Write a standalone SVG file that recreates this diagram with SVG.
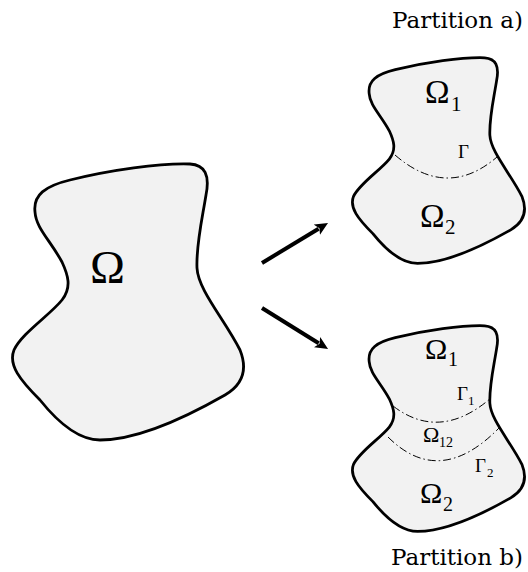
<svg xmlns="http://www.w3.org/2000/svg" xmlns:xlink="http://www.w3.org/1999/xlink" width="528" height="572" viewBox="0 0 528 572">
<style>
.blob{fill:#f2f2f2;stroke:#000;stroke-linejoin:round}
.iface{fill:none;stroke:#000;stroke-width:1;stroke-dasharray:8 3 1.5 3}
.arrow{stroke:#000;stroke-width:4;fill:none}
.m{font-family:"Liberation Serif","DejaVu Serif",serif;fill:#000}
.cap{font-family:"DejaVu Serif","Liberation Serif",serif;font-size:23px;fill:#000}
</style>
<defs>
<path id="blob" d="M35,212 C33,195 45,186 70,180 C110,170 160,163 190,164 C205,165 210,175 206,195 C202,220 196,245 197,268 C198,290 225,320 240,350 C248,370 242,385 225,395 C190,415 140,440 100,440 C80,440 60,425 40,400 C20,380 8,365 14,350 C22,333 50,315 62,300 C72,287 68,275 62,262 C50,240 36,228 35,212 Z"/>
<marker id="head" markerUnits="userSpaceOnUse" viewBox="0 0 13 12" markerWidth="13" markerHeight="12" refX="2" refY="6" orient="auto">
<path d="M0,0 L13,6 L0,12 L3,6 z" fill="#000"/>
</marker>
</defs>
<g id="domain">
<use xlink:href="#blob" href="#blob" class="blob" style="stroke-width:2.8"/>
<text class="m" x="90" y="283" font-size="47">Ω</text>
</g>
<g id="partition-a">
<use xlink:href="#blob" href="#blob" class="blob" style="stroke-width:3.7" transform="translate(343.1,-64.4) scale(0.745)"/>
<path class="iface" d="M395,155 Q447,200 497,157"/>
<text class="m" font-size="33"><tspan x="425" y="103">Ω</tspan><tspan x="451" y="111" font-size="21">1</tspan></text>
<text class="m" x="458" y="158" font-size="19">Γ</text>
<text class="m" font-size="33"><tspan x="420" y="227">Ω</tspan><tspan x="445" y="234" font-size="21">2</tspan></text>
<text class="cap" x="523" y="28" text-anchor="end">Partition a)</text>
</g>
<g id="partition-b">
<use xlink:href="#blob" href="#blob" class="blob" style="stroke-width:3.7" transform="translate(343.1,203.6) scale(0.745)"/>
<path class="iface" d="M393,406 Q440,442 491,398"/>
<path class="iface" d="M388,437 Q440,489 500,427"/>
<text class="m" font-size="30"><tspan x="425" y="359">Ω</tspan><tspan x="448" y="366" font-size="20">1</tspan></text>
<text class="m" font-size="19"><tspan x="457" y="400">Γ</tspan><tspan x="468" y="405" font-size="13">1</tspan></text>
<text class="m" font-size="22"><tspan x="423" y="442">Ω</tspan><tspan x="439" y="447" font-size="14">12</tspan></text>
<text class="m" font-size="19"><tspan x="475" y="472">Γ</tspan><tspan x="487" y="477" font-size="13">2</tspan></text>
<text class="m" font-size="30"><tspan x="420" y="503">Ω</tspan><tspan x="443" y="511" font-size="20">2</tspan></text>
<text class="cap" x="523" y="565" text-anchor="end">Partition b)</text>
</g>
<g id="connectors">
<line class="arrow" x1="262" y1="263" x2="318.6" y2="228.7" marker-end="url(#head)"/>
<line class="arrow" x1="262" y1="308" x2="318.7" y2="343.2" marker-end="url(#head)"/>
</g>
</svg>
